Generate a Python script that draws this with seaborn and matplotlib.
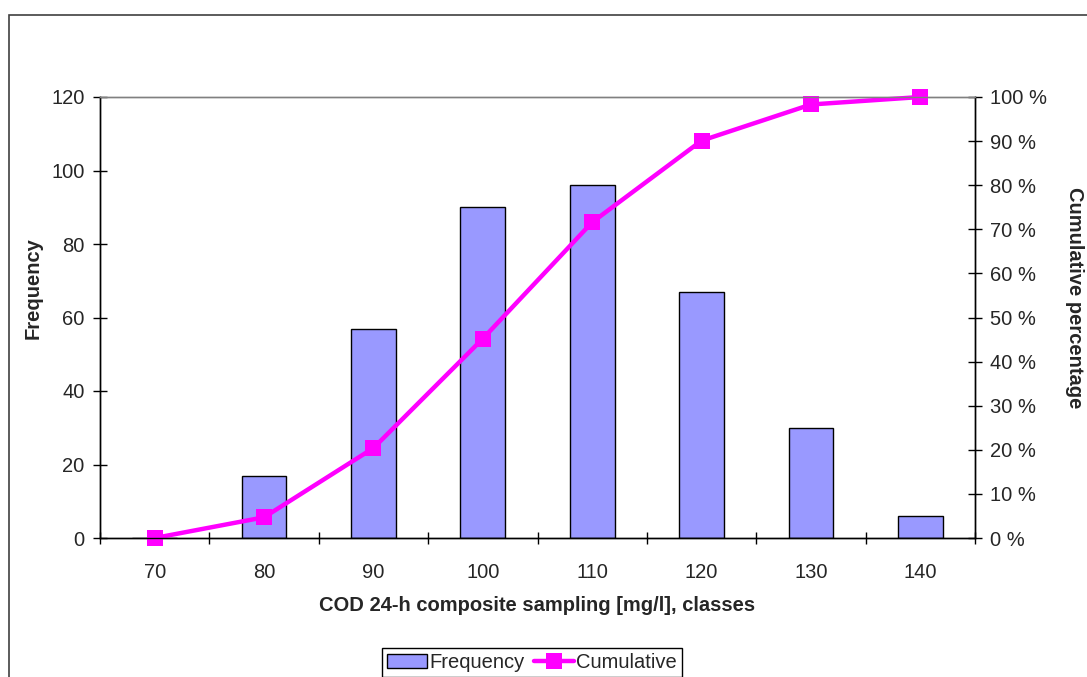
import numpy as np
import pandas as pd
import matplotlib
matplotlib.use("Agg")
import matplotlib.pyplot as plt
from matplotlib.patches import Rectangle, Patch
from matplotlib.lines import Line2D
from matplotlib.ticker import FixedLocator, MultipleLocator, FuncFormatter
import seaborn as sns

# data
classes = [70, 80, 90, 100, 110, 120, 130, 140]
frequency = [0, 17, 57, 90, 96, 67, 30, 6]
cumulative = [0.0, 4.7, 20.4, 45.2, 71.6, 90.1, 98.3, 100.0]

sns.set_style("ticks")
plt.rcParams["font.family"] = ["Liberation Sans", "DejaVu Sans"]
plt.rcParams["font.size"] = 14.5

df = pd.DataFrame({"cls": classes, "freq": frequency, "cum": cumulative})

bar_col = "#9999ff"
line_col = "#ff00ff"

W, H = 1087, 677
fig = plt.figure(figsize=(W / 100, H / 100), dpi=100)
ax = fig.add_axes([100 / W, 1 - 538 / H, 875 / W, 441 / H])

sns.barplot(data=df, x="cls", y="freq", color=bar_col, saturation=1,
            width=0.41, edgecolor="black", linewidth=1, ax=ax)

ax2 = ax.twinx()
sns.pointplot(data=df, x="cls", y="cum", color=line_col, marker="s",
              markersize=11, markeredgewidth=0, linewidth=3.2, ax=ax2)
for ln in ax2.lines:
    ln.set_clip_on(False)

# x axis: labels at categories, ticks between them
ax.set_xlim(-0.5, len(classes) - 0.5)
ax.tick_params(axis="x", which="major", length=0, pad=18, labelsize=14.5)
ax.xaxis.set_minor_locator(FixedLocator(np.arange(-0.5, len(classes), 1)))
ax.tick_params(axis="x", which="minor", length=8, width=1, direction="inout",
               color="black")

ax.set_ylim(0, 120)
ax.yaxis.set_major_locator(MultipleLocator(20))
ax.tick_params(axis="y", direction="inout", length=10, width=1, pad=6,
               color="black", labelsize=14.5)

ax2.set_ylim(0, 100)
ax2.yaxis.set_major_locator(MultipleLocator(10))
ax2.yaxis.set_major_formatter(FuncFormatter(lambda v, p: f"{v:.0f} %"))
ax2.tick_params(axis="y", direction="inout", length=10, width=1, pad=6,
                color="black", labelsize=14.5)

for a in (ax, ax2):
    a.spines["top"].set_color("#808080")
    a.spines["left"].set_color("black")
    a.spines["right"].set_color("black")
    a.spines["bottom"].set_color("black")
    for s in a.spines.values():
        s.set_linewidth(1)

ax.set_xlabel("COD 24-h composite sampling [mg/l], classes", fontweight="bold",
              fontsize=14.5, va="center")
ax.xaxis.set_label_coords(0.5, -0.152)
ax.set_ylabel("Frequency", fontweight="bold", fontsize=14.5, va="center")
ax.yaxis.set_label_coords(-0.0766, 0.567)
ax2.set_ylabel("Cumulative percentage", fontweight="bold", fontsize=14.5,
               rotation=270, va="center", ha="center")
ax2.yaxis.set_label_coords(1.114, 0.546)

if ax2.get_legend() is not None:
    ax2.get_legend().remove()

handles = [
    Patch(facecolor=bar_col, edgecolor="black", linewidth=1),
    Line2D([], [], color=line_col, lw=3.2, marker="s", markersize=11,
           markeredgewidth=0),
]
leg = fig.legend(handles, ["Frequency", "Cumulative"], loc="upper center",
                 bbox_to_anchor=(532 / W, 1 - 648 / H), ncol=2,
                 frameon=True, fancybox=False, handlelength=2.0,
                 handletextpad=0.1, columnspacing=0.45, borderpad=0.25,
                 borderaxespad=0, fontsize=14.5)
leg.get_frame().set_edgecolor("black")
leg.get_frame().set_linewidth(1)
leg.get_frame().set_alpha(1)

# outer chart frame
fig.patches.append(Rectangle((8.5 / W, -0.5), 2, 0.5 + 1 - 14.5 / H,
                             transform=fig.transFigure, fill=False,
                             edgecolor="#404040", lw=1.2))

fig.savefig("out.png", dpi=100)
